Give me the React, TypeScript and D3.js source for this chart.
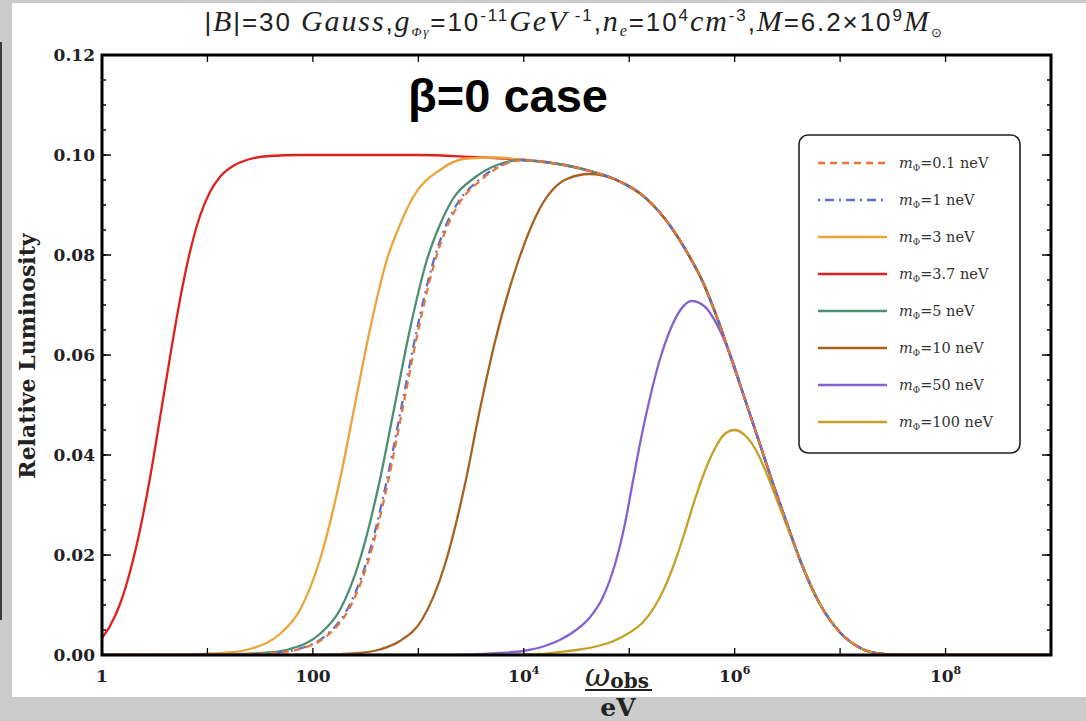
import React from 'react';
import * as d3 from 'd3';

// ---------- data (x given as log10(ω/eV), y relative luminosity) ----------
const envelope: [number, number][] = [
  [4.0, 0.099], [4.3, 0.0983], [4.63, 0.0968], [4.88, 0.095], [5.16, 0.0913],
  [5.4, 0.0855], [5.55, 0.0805], [5.7, 0.0745], [5.85, 0.0665], [5.98, 0.0585], [6.1, 0.051],
  [6.25, 0.0415], [6.36, 0.0345], [6.5, 0.026], [6.62, 0.019], [6.8, 0.0105], [7.0, 0.0045],
  [7.2, 0.0013], [7.4, 0.0002], [7.6, 0], [8.5, 0], [9, 0],
];
const m01: [number, number][] = [
  [0, 0], [0.8, 0], [1.403, 0.0002], [1.687, 0.0005], [1.877, 0.0012], [2.142, 0.004],
  [2.332, 0.0088], [2.521, 0.0185], [2.711, 0.0345], [2.853, 0.0495], [2.995, 0.0645],
  [3.147, 0.078], [3.27, 0.0855], [3.393, 0.0905], [3.583, 0.0948], [3.801, 0.098], [4.009, 0.099],
];
const m1: [number, number][] = [
  [0, 0], [0.8, 0], [1.389, 0.0002], [1.673, 0.0005], [1.863, 0.0012], [2.128, 0.004],
  [2.318, 0.0088], [2.507, 0.0185], [2.697, 0.0345], [2.839, 0.0495], [2.981, 0.0645],
  [3.133, 0.078], [3.256, 0.0856], [3.379, 0.0906], [3.569, 0.0949], [3.79, 0.098], [4.0, 0.099],
];
const m3: [number, number][] = [
  [0, 0], [0.6, 0], [0.929, 0.0002], [1.213, 0.0005], [1.403, 0.0012], [1.687, 0.0042],
  [1.877, 0.009], [2.066, 0.019], [2.256, 0.035], [2.398, 0.05], [2.54, 0.065], [2.701, 0.079],
  [2.825, 0.086], [2.948, 0.0915], [3.204, 0.097], [3.46, 0.0993], [3.75, 0.0995],
];
const m37: [number, number][] = [
  [0, 0.0034], [0.076, 0.0058], [0.171, 0.0102], [0.265, 0.0166], [0.36, 0.025], [0.455, 0.0354],
  [0.55, 0.0474], [0.645, 0.0596], [0.739, 0.071], [0.834, 0.0806], [0.929, 0.0878],
  [1.024, 0.0926], [1.118, 0.0956], [1.26, 0.098], [1.403, 0.0992], [1.592, 0.0998],
  [1.877, 0.1], [2.5, 0.1], [3.0, 0.1], [3.5, 0.0996],
];
const m5: [number, number][] = [
  [0, 0], [0.7, 0], [1.0, 0.0001], [1.308, 0.0002], [1.592, 0.0005], [1.782, 0.0012], [2.066, 0.0042],
  [2.256, 0.009], [2.445, 0.019], [2.635, 0.035], [2.777, 0.05], [2.919, 0.065], [3.081, 0.079],
  [3.204, 0.086], [3.327, 0.0912], [3.536, 0.0955], [3.773, 0.0982], [3.962, 0.099],
];
const m10: [number, number][] = [
  [0, 0], [1.8, 0], [2.161, 0.0001], [2.445, 0.0004], [2.635, 0.0011], [2.825, 0.0028],
  [3.033, 0.007], [3.251, 0.018], [3.441, 0.034], [3.583, 0.049], [3.725, 0.0625], [3.943, 0.0785],
  [4.152, 0.0893], [4.408, 0.0952], [4.626, 0.0962], [4.882, 0.095], [5.166, 0.0913],
];
const m50: [number, number][] = [
  [0, 0], [3.0, 0], [3.488, 0.0001], [3.773, 0.0004], [3.991, 0.0008], [4.199, 0.0018],
  [4.341, 0.003], [4.483, 0.0048], [4.626, 0.0075], [4.749, 0.0115], [4.863, 0.018],
  [4.957, 0.026], [5.033, 0.0345], [5.109, 0.043], [5.194, 0.0512], [5.289, 0.059],
  [5.384, 0.0648], [5.479, 0.0688], [5.592, 0.0708], [5.716, 0.0697], [5.829, 0.0662],
  [5.905, 0.0628], [5.981, 0.0588],
];
const m100: [number, number][] = [
  [0, 0], [3.6, 0], [4.152, 0.0002], [4.341, 0.0006], [4.531, 0.0011], [4.72, 0.0019],
  [4.863, 0.0029], [5.005, 0.0045], [5.128, 0.0065], [5.242, 0.0097], [5.336, 0.0135],
  [5.431, 0.0185], [5.526, 0.0245], [5.621, 0.031], [5.716, 0.0367], [5.81, 0.0412],
  [5.905, 0.0442], [6.0, 0.045], [6.095, 0.044], [6.19, 0.0414], [6.284, 0.0373],
  [6.379, 0.0322], [6.474, 0.027],
];

const seriesLabels = ['0.1', '1', '3', '3.7', '5', '10', '50', '100'];
const seriesColors = ['#E3783F', '#5B6FC8', '#EBA43A', '#E0201E', '#4E8E72', '#A8601E', '#8463D0', '#C4A227'];
const seriesDash = ['7,5', '2,5,9,5', null, null, null, null, null, null];
const seriesData = [m01, m1, m3, m37, m5, m10, m50, m100];
const drawOrder = [3, 2, 4, 5, 6, 7, 1, 0];

const xTickExps = [0, 1, 2, 3, 4, 5, 6, 7, 8, 9];
const xLabelExps = [0, 2, 4, 6, 8];
const xLabelBase = ['1', '100', '10', '10', '10'];
const xLabelSup = ['', '', '4', '6', '8'];
const yMajor = [0, 0.02, 0.04, 0.06, 0.08, 0.1, 0.12];
const yMinor = d3.range(0, 0.1201, 0.005);

// ---------- layout ----------
const W = 1086, H = 721;
const L = 102, R = 1051, T = 55, B = 655;

function withEnvelope(pts: [number, number][]) {
  const last = pts[pts.length - 1][0];
  return pts.concat(envelope.filter(p => p[0] > last + 0.05));
}

export default function App() {
  const x = d3.scaleLog().domain([1, 1e9]).range([L, R]);
  const y = d3.scaleLinear().domain([0, 0.12]).range([B, T]);
  const line = d3.line<[number, number]>()
    .x(d => x(Math.pow(10, d[0])))
    .y(d => y(d[1]))
    .curve(d3.curveMonotoneX);

  const serif = "'DejaVu Serif', serif";
  const tSerif = "'Liberation Serif', 'Times New Roman', serif";
  const legendX = 799, legendY = 135, legendW = 221, legendH = 318;
  const rowY = (i: number) => 163 + i * 37;

  return (
    <svg width={W} height={H} style={{ display: 'block' }} xmlns="http://www.w3.org/2000/svg">
      <style>{`body{margin:0;}`}</style>
      <rect x={0} y={0} width={W} height={H} fill="#cbcbcb" />
      <rect x={12} y={3} width={W - 12} height={694} fill="#ffffff" />
      <rect x={0} y={42} width={2} height={578} fill="#3a3a3a" />

      {/* title */}
      <text x={574} y={31} textAnchor="middle" fontSize={26} letterSpacing={1.9}
        fontFamily="'Liberation Sans', Arial, sans-serif" fill="#222">
        <tspan>|</tspan>
        <tspan fontFamily={tSerif} fontStyle="italic" fontSize={30}>B</tspan>
        <tspan>|=30 </tspan>
        <tspan fontFamily={tSerif} fontStyle="italic" fontSize={30}>Gauss</tspan>
        <tspan>,</tspan>
        <tspan fontFamily={tSerif} fontStyle="italic" fontSize={30}>g</tspan>
        <tspan fontSize={13} dy={5} fontFamily={tSerif} fontStyle="italic">Φγ</tspan>
        <tspan dy={-5}>=10</tspan>
        <tspan fontSize={17} dy={-10}>-11</tspan>
        <tspan dy={10} fontFamily={tSerif} fontStyle="italic" fontSize={30}>GeV</tspan>
        <tspan fontSize={17} dy={-10}> -1</tspan>
        <tspan dy={10}>,</tspan>
        <tspan fontFamily={tSerif} fontStyle="italic" fontSize={30}>n</tspan>
        <tspan fontSize={16} dy={5} fontFamily={tSerif} fontStyle="italic">e</tspan>
        <tspan dy={-5}>=10</tspan>
        <tspan fontSize={17} dy={-10}>4</tspan>
        <tspan dy={10} fontFamily={tSerif} fontStyle="italic" fontSize={30}>cm</tspan>
        <tspan fontSize={17} dy={-10}>-3</tspan>
        <tspan dy={10}>,</tspan>
        <tspan fontFamily={tSerif} fontStyle="italic" fontSize={30}>M</tspan>
        <tspan>=6.2×10</tspan>
        <tspan fontSize={17} dy={-10}>9</tspan>
        <tspan dy={10} fontFamily={tSerif} fontStyle="italic" fontSize={30}>M</tspan>
        <tspan fontSize={13} dy={6}>⊙</tspan>
      </text>

      <defs>
        <clipPath id="plotclip">
          <rect x={L} y={T} width={R - L} height={B - T} />
        </clipPath>
      </defs>

      {/* curves */}
      <g clipPath="url(#plotclip)">
        {drawOrder.map(i => (
          <path key={i} d={line(withEnvelope(seriesData[i])) || ''} fill="none"
            stroke={seriesColors[i]} strokeWidth={2.3}
            strokeDasharray={seriesDash[i] || undefined} />
        ))}
      </g>

      {/* frame */}
      <rect x={L} y={T} width={R - L} height={B - T} fill="none" stroke="#000" strokeWidth={3} />

      {/* x ticks */}
      {xTickExps.map(e => {
        const px = x(Math.pow(10, e));
        return (
          <g key={'xt' + e}>
            <line x1={px} x2={px} y1={B} y2={B - 7} stroke="#000" strokeWidth={1.3} />
            <line x1={px} x2={px} y1={T} y2={T + 7} stroke="#000" strokeWidth={1.3} />
          </g>
        );
      })}
      {xLabelExps.map((e, i) => (
        <text key={'xl' + e} x={x(Math.pow(10, e))} y={682} textAnchor="middle"
          fontFamily={serif} fontWeight="bold" fontSize={17} fill="#222">
          <tspan>{xLabelBase[i]}</tspan>
          {xLabelSup[i] ? <tspan fontSize={11} dy={-8}>{xLabelSup[i]}</tspan> : null}
        </text>
      ))}

      {/* y ticks */}
      {yMinor.map((v, i) => (
        <g key={'ym' + i}>
          <line x1={L} x2={L + 4} y1={y(v)} y2={y(v)} stroke="#000" strokeWidth={1.5} />
          <line x1={R} x2={R - 4} y1={y(v)} y2={y(v)} stroke="#000" strokeWidth={1.5} />
        </g>
      ))}
      {yMajor.map(v => (
        <g key={'yM' + v}>
          <line x1={L} x2={L + 9} y1={y(v)} y2={y(v)} stroke="#000" strokeWidth={1.5} />
          <line x1={R} x2={R - 9} y1={y(v)} y2={y(v)} stroke="#000" strokeWidth={1.5} />
          <text x={95} y={y(v) + 6} textAnchor="end" fontFamily={serif} fontWeight="bold"
            fontSize={17} fill="#222">{d3.format('.2f')(v)}</text>
        </g>
      ))}

      {/* y label */}
      <text transform="translate(35,356) rotate(-90)" textAnchor="middle" fontFamily={serif}
        fontWeight="bold" fontSize={22} fill="#222">Relative Luminosity</text>

      {/* x label */}
      <text x={617} y={686} textAnchor="middle" fill="#222">
        <tspan fontFamily={serif} fontStyle="italic" fontSize={31}>ω</tspan>
        <tspan fontFamily={serif} fontWeight="bold" fontSize={20} dy={2}>obs</tspan>
      </text>
      <line x1={585} x2={652} y1={690} y2={690} stroke="#222" strokeWidth={2} />
      <text x={618} y={716} textAnchor="middle" fontFamily={serif} fontWeight="bold"
        fontSize={25} fill="#222">eV</text>

      {/* β=0 case */}
      <text x={508} y={112} textAnchor="middle" fontFamily="'Liberation Sans', Arial, sans-serif"
        fontWeight="bold" fontSize={47} fill="#000">β=0 case</text>

      {/* legend */}
      <rect x={legendX} y={legendY} width={legendW} height={legendH} rx={9} ry={9}
        fill="#fff" stroke="#222" strokeWidth={1.6} />
      {seriesLabels.map((lab, i) => (
        <g key={'lg' + i}>
          <line x1={818} x2={887} y1={rowY(i)} y2={rowY(i)} stroke={seriesColors[i]}
            strokeWidth={2.6} strokeDasharray={seriesDash[i] || undefined} />
          <text x={899} y={rowY(i) + 5} fontFamily={serif} fontSize={14.5} fill="#333">
            <tspan fontStyle="italic">m</tspan>
            <tspan fontSize={9} dy={3}>Φ</tspan>
            <tspan dy={-3}>{'=' + lab + ' neV'}</tspan>
          </text>
        </g>
      ))}
    </svg>
  );
}
